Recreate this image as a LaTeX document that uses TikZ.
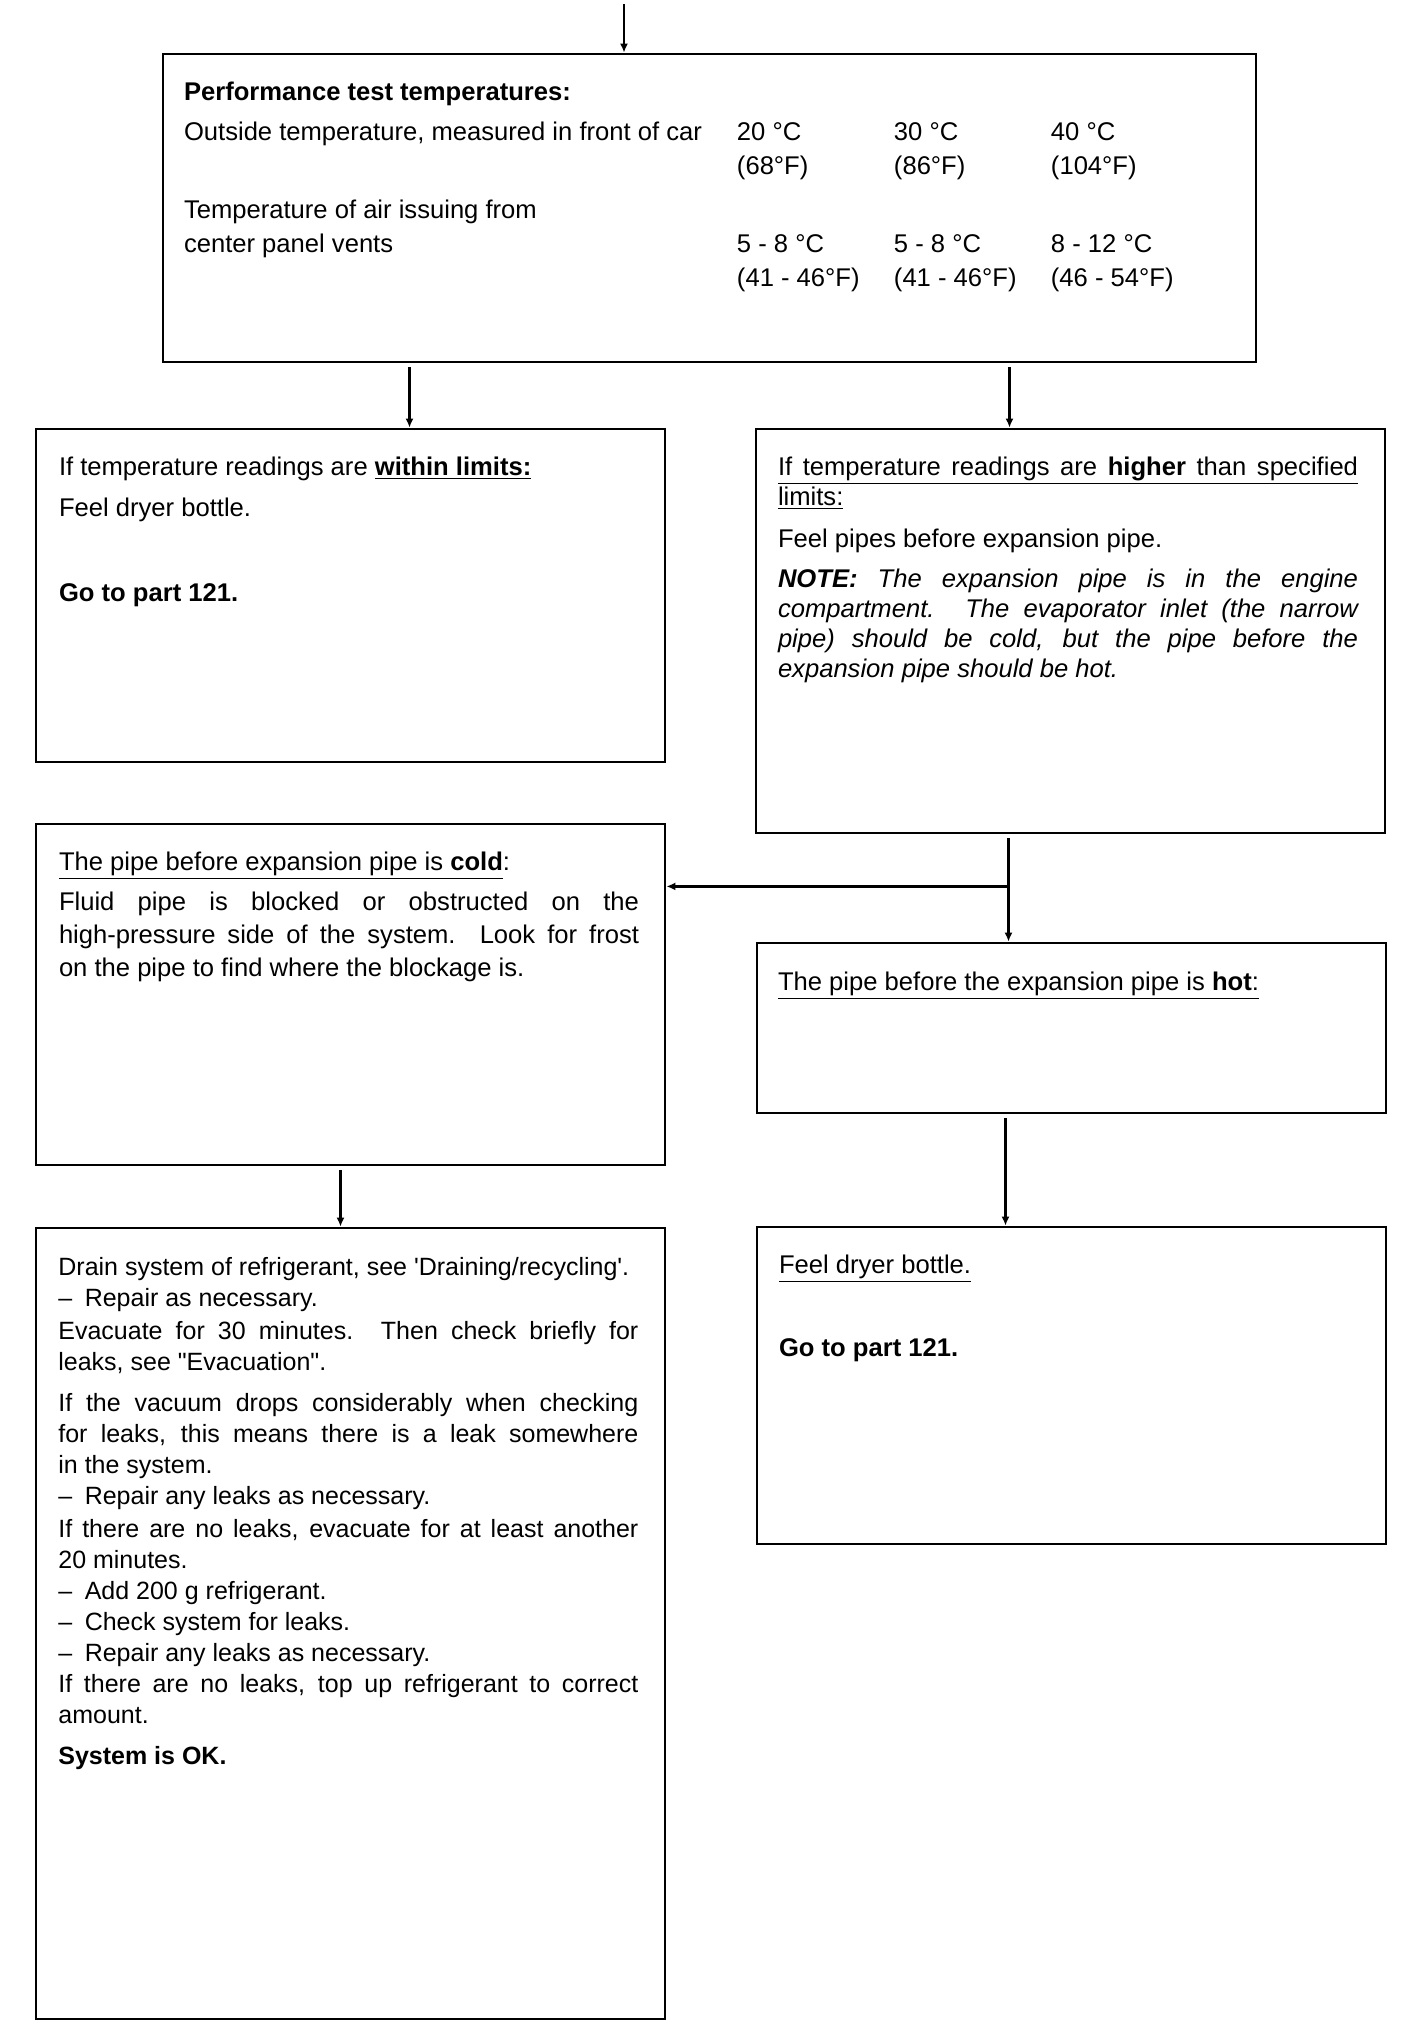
\documentclass[tikz,border=0pt]{standalone}
\usepackage{fontspec}
\setmainfont{Liberation Sans}
\newfontfamily\qfont{Liberation Sans}[Ligatures=TeXOff]
\usetikzlibrary{arrows.meta,positioning}

\begin{document}
\begin{tikzpicture}[
  x=0.5pt, y=-0.5pt,
  tbox/.style={draw, line width=1.4pt, minimum width=314.5pt, inner sep=0pt},
  tpara/.style={inner sep=0pt, text width=290pt, align=justify, font=\fontsize{12.8}{16.5}\selectfont},
  arr/.style={-{Latex[length=4.5pt,width=4pt]}, line width=1.4pt, shorten <=2pt}
]
\useasboundingbox (0,0) rectangle (1408,2026);

% boxes
\coordinate (start) at (624,0);
\node[tbox, minimum width=546.5pt, minimum height=154pt] (perf) at (709.5,208) {};
\node[tbox, minimum height=166.5pt] (within) at (350.5,595.5) {};
\node[tbox, minimum height=202pt] (higher) at (1070.5,631) {};
\node[tbox, minimum height=170.5pt] (cold) at (350.5,994.5) {};
\node[tbox, minimum height=85pt] (hot) at (1071.5,1028) {};
\node[tbox, minimum height=395.5pt] (drain) at (350.5,1623.5) {};
\node[tbox, minimum height=158.5pt] (dryer) at (1071.5,1385.5) {};

% texts
\node[inner sep=0pt, font=\fontsize{12.8}{17}\selectfont, below right=12pt and 11pt of perf.north west] (perfT) {%
\begin{tabular}{@{}p{276.5pt}@{}p{78.5pt}@{}p{78.5pt}@{}l@{}}
\multicolumn{4}{@{}l@{}}{\textbf{Performance test temperatures:}}\\[3pt]
Outside temperature, measured in front of car & 20 °C & 30 °C & 40 °C\\
 & (68°F) & (86°F) & (104°F)\\[5pt]
Temperature of air issuing from & & & \\
center panel vents & 5 - 8 °C & 5 - 8 °C & 8 - 12 °C\\
 & (41 - 46°F) & (41 - 46°F) & (46 - 54°F)
\end{tabular}};
\node[tpara, below right=14.5pt and 12pt of within.north west] (withinT) {If temperature readings are \underline{\textbf{within limits:}}\par\vspace{4pt}Feel dryer bottle.\par\vspace{26pt}\textbf{Go to part 121.}};
\node[tpara, font=\fontsize{12.8}{15}\selectfont, below right=14.5pt and 11.5pt of higher.north west] (higherT) {\underline{\makebox[\hsize][s]{If temperature readings are \textbf{higher} than specified}}\par\underline{limits:}\par\vspace{6pt}Feel pipes before expansion pipe.\par\vspace{5pt}\fontsize{12.8}{16.5}\selectfont\tolerance=9999 \textit{\textbf{NOTE:} The expansion pipe is in the engine\linebreak compartment.  The evaporator inlet (the narrow\linebreak pipe) should be cold, but the pipe before the\linebreak expansion pipe should be hot.}};
\node[tpara, below right=14.5pt and 12pt of cold.north west] (coldT) {\underline{The pipe before expansion pipe is \textbf{cold}}:\par\vspace{3.5pt}\tolerance=9999 Fluid pipe is blocked or obstructed on the\linebreak \mbox{high-pressure} side of the system.  Look for frost\linebreak on the pipe to find where the blockage is.};
\node[tpara, below right=15pt and 11pt of hot.north west] (hotT) {\underline{The pipe before the expansion pipe is \textbf{hot}:}};
\node[tpara, font=\fontsize{12.5}{15.5}\selectfont, below right=15pt and 11.7pt of drain.north west] (drainT) {\tolerance=9999 Drain system of refrigerant, see {\qfont'}Draining/recycling{\qfont'}.\par
--\enspace Repair as necessary.\par\vspace{1pt}
Evacuate for 30 minutes.  Then check briefly for\linebreak leaks, see {\qfont"}Evacuation{\qfont"}.\par\vspace{5pt}
If the vacuum drops considerably when checking\linebreak for leaks, this means there is a leak somewhere\linebreak in the system.\par
--\enspace Repair any leaks as necessary.\par\vspace{1pt}
If there are no leaks, evacuate for at least another\linebreak 20 minutes.\par
--\enspace Add 200 g refrigerant.\par
--\enspace Check system for leaks.\par
--\enspace Repair any leaks as necessary.\par
If there are no leaks, top up refrigerant to correct\linebreak amount.\par\vspace{5pt}
\textbf{System is OK.}};
\node[tpara, below right=14.5pt and 11.5pt of dryer.north west] (dryerT) {\underline{Feel dryer bottle.}\par\vspace{25pt}\textbf{Go to part 121.}};

% arrows
\draw[arr] (start) -- (start |- perf.north);
\draw[arr] ([xshift=-150pt]perf.south) -- ([xshift=-150pt]perf.south |- within.north);
\draw[arr] ([xshift=150pt]perf.south) -- ([xshift=150pt]perf.south |- higher.north);
\draw[arr] ([xshift=-31pt]higher.south) -- ([xshift=-31pt]higher.south |- hot.north);
\coordinate (split) at ([xshift=-31pt,yshift=-26pt]higher.south);
\draw[arr, shorten <=0pt] (split) -- (split -| cold.east);
\draw[arr] ([xshift=-5pt]cold.south) -- ([xshift=-5pt]cold.south |- drain.north);
\draw[arr] ([xshift=-33pt]hot.south) -- ([xshift=-33pt]hot.south |- dryer.north);
\end{tikzpicture}
\end{document}
